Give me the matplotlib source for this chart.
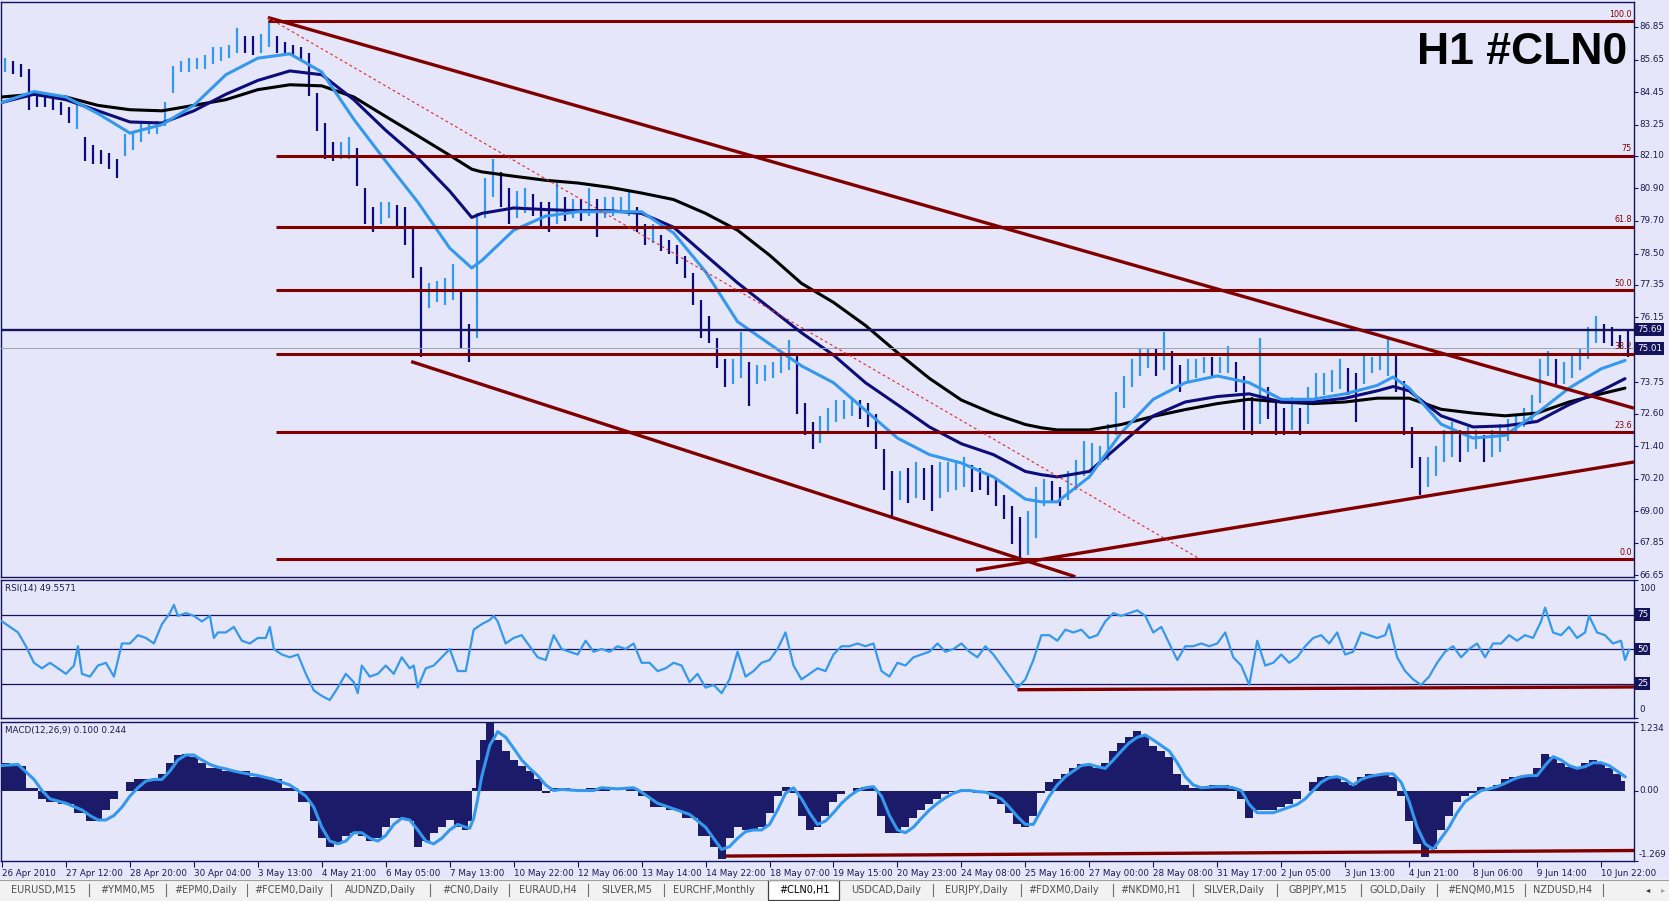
import matplotlib
matplotlib.use('Agg')
import matplotlib.pyplot as plt
import matplotlib.transforms as mtransforms
from matplotlib.patches import Rectangle
import numpy as np

# ---------------- data ----------------
# price bars, one bar per 4 hourly candles (low / high)
BAR_LOW = [85.2,85.1,85.0,83.8,83.9,83.9,83.8,83.6,83.3,83.1,
           81.9,81.8,81.8,81.6,81.3,82.1,82.3,82.6,82.9,82.9,
           83.2,84.4,85.2,85.2,85.3,85.3,85.5,85.6,85.7,85.9,
           85.9,85.8,85.9,86.1,85.9,85.8,85.8,85.6,84.3,83.0,
           82.0,81.9,82.0,82.0,81.0,79.6,79.3,79.6,79.8,79.5,
           78.8,77.6,74.7,76.5,76.7,76.6,76.8,75.0,74.5,75.4,
           79.8,80.6,80.2,79.6,79.8,80.0,79.9,79.5,79.3,79.6,
           79.7,79.8,79.7,79.9,79.1,79.8,79.9,80.0,79.9,79.3,
           78.8,78.9,78.6,78.5,78.1,77.6,76.6,75.4,75.2,74.3,
           73.6,73.7,73.9,72.9,73.7,73.8,73.9,74.1,74.2,72.6,
           71.8,71.3,71.5,71.9,72.3,72.4,72.5,72.4,72.1,71.3,
           69.8,68.8,69.4,69.3,69.5,69.4,69.0,69.5,69.7,69.8,
           69.9,69.7,69.8,69.6,69.2,68.7,67.8,67.24,67.4,68.0,
           69.2,69.3,69.2,69.4,69.8,70.3,70.6,70.7,70.9,71.8,
           72.8,73.6,74.0,74.3,74.0,74.2,73.7,73.4,73.8,73.9,
           74.1,74.0,74.1,74.1,73.4,72.0,71.8,72.2,72.4,71.8,
           71.8,72.0,71.8,72.2,73.1,73.3,73.4,73.5,73.3,72.3,
           73.7,74.1,74.2,74.0,73.4,71.8,70.6,69.6,69.9,70.3,
           70.8,71.0,70.8,71.2,71.3,70.8,71.0,71.2,71.6,71.9,
           72.1,72.3,73.0,74.0,73.6,73.7,73.9,74.2,74.6,75.2,
           75.2,75.1,75.0,74.7]
BAR_HIGH = [85.7,85.6,85.5,85.3,84.5,84.4,84.3,84.1,83.9,84.2,
            82.8,82.5,82.3,82.2,82.0,82.9,83.0,83.3,83.4,83.4,
            84.1,85.4,85.6,85.7,85.7,85.8,86.1,86.1,86.2,86.8,
            86.5,86.5,86.6,87.07,86.5,86.3,86.2,86.1,85.9,84.4,
            83.3,82.6,82.6,82.8,82.4,80.9,80.2,80.4,80.4,80.3,
            80.2,79.5,78.0,77.4,77.5,77.6,78.1,77.2,75.9,80.0,
            81.3,82.0,81.5,80.9,80.8,80.9,80.7,80.4,80.4,81.1,
            80.6,80.5,80.5,80.9,80.5,80.6,80.6,80.6,80.8,80.2,
            79.6,79.6,79.2,79.0,78.8,78.4,77.8,76.8,76.2,75.4,
            74.6,74.6,75.6,74.5,74.4,74.4,74.5,74.8,75.3,74.8,
            73.0,72.3,72.5,72.8,73.1,73.1,73.2,73.1,73.0,72.6,
            71.3,70.5,70.5,70.6,70.8,70.6,70.7,70.8,70.8,70.9,
            71.0,70.7,70.6,70.4,70.2,69.6,69.2,68.8,69.0,69.9,
            70.2,70.1,69.9,70.5,70.9,71.6,71.5,71.4,72.2,73.4,
            74.0,74.6,75.0,75.0,75.0,75.6,74.9,74.4,74.6,74.6,
            74.7,74.7,74.7,75.1,74.5,74.0,73.2,75.4,73.6,73.0,
            72.8,73.2,72.8,73.6,74.1,74.1,74.2,74.6,74.3,74.1,
            74.8,74.7,74.8,75.4,74.8,73.8,72.1,71.0,71.0,71.4,
            72.0,72.3,72.0,72.1,72.0,71.8,72.0,72.2,72.4,72.6,
            72.8,73.3,74.6,74.9,74.6,74.5,74.8,75.0,75.8,76.2,
            75.9,75.8,75.5,75.7]
BARS_PER_GROUP = 4

# moving averages (bar index, value)
MA_X = [0,16,32,48,64,80,96,112,128,144,160,176,192,208,224,235,240,256,272,288,
        304,320,336,352,368,384,400,416,432,448,464,480,496,512,520,528,544,560,576,592,
        608,624,640,656,672,688,696,704,720,736,752,768,784,800,812]
MA_FAST = [84.07,84.47,84.27,83.66,82.94,83.25,83.96,85.09,85.70,85.86,
           85.19,83.45,81.90,80.40,78.70,77.97,78.24,79.36,79.88,80.04,
           80.04,80.04,79.26,77.83,75.99,75.17,74.36,73.74,72.72,71.70,
           71.09,70.78,70.27,69.45,69.35,69.35,70.27,71.90,73.13,73.74,
           73.99,73.74,73.13,73.13,73.33,73.64,73.95,73.54,72.21,71.70,
           71.80,72.62,73.54,74.25,74.56]
MA_MID = [84.07,84.37,84.17,83.76,83.35,83.31,83.76,84.37,84.88,85.23,
          85.09,84.17,83.04,82.02,80.80,79.83,79.98,80.18,80.12,80.08,
          80.08,79.98,79.47,78.44,77.42,76.50,75.58,74.76,73.74,72.93,
          72.11,71.49,71.09,70.47,70.35,70.27,70.47,71.49,72.52,73.03,
          73.23,73.33,73.03,73.03,73.17,73.44,73.60,73.44,72.52,72.11,
          72.15,72.31,72.93,73.44,73.89]
MA_SLOW = [84.27,84.37,84.27,83.96,83.80,83.76,83.96,84.17,84.54,84.72,
           84.68,84.27,83.55,82.84,82.12,81.61,81.51,81.35,81.20,81.10,
           80.94,80.73,80.49,79.98,79.36,78.44,77.40,76.70,75.85,74.85,
           73.90,73.10,72.60,72.20,72.08,72.00,72.00,72.20,72.50,72.75,
           72.97,73.13,73.03,72.97,73.03,73.17,73.17,73.17,72.76,72.62,
           72.52,72.62,73.03,73.33,73.54]

# RSI(14)
RSI_X = [0,4,8,12,16,20,24,28,32,36,38,40,44,48,52,56,60,64,68,72,76,80,84,86,88,92,96,100,104,106,
         108,112,116,120,124,128,132,134,136,140,144,148,152,156,160,164,168,172,176,178,180,184,188,192,196,
         200,204,206,208,212,216,220,224,228,232,236,240,244,246,248,252,256,260,264,268,272,276,280,284,288,
         292,296,300,304,308,312,316,320,324,328,332,336,340,344,348,352,356,360,364,368,372,376,380,384,388,
         392,396,400,404,408,412,416,420,424,428,432,436,440,444,448,452,456,460,464,468,472,476,480,484,488,
         492,496,500,504,508,512,516,520,524,528,532,536,540,544,548,552,556,560,564,568,572,576,580,584,588,
         592,596,600,604,608,612,616,620,624,628,632,636,640,644,648,652,656,660,664,668,672,676,680,684,688,
         692,694,698,702,706,710,714,718,722,726,730,734,738,742,746,750,754,758,762,766,770,772,776,780,784,
         788,792,794,798,802,806,810,812,814]
RSI_V = [70,66,62,52,40,36,40,36,32,38,52,32,30,38,40,30,54,54,60,58,54,68,76,82,74,76,74,70,74,58,
         62,62,66,56,54,58,58,66,50,46,44,46,32,20,16,13,22,32,26,18,38,30,32,38,32,
         44,36,38,22,36,38,44,50,34,34,64,68,71,74,70,54,58,60,52,44,42,60,50,48,46,
         56,48,50,48,52,50,54,40,40,34,36,40,38,26,32,22,24,18,28,48,30,34,40,42,50,
         62,38,28,32,36,34,46,52,52,54,52,54,34,30,40,38,44,46,48,54,48,50,54,48,44,
         52,46,38,30,22,28,42,60,60,56,64,62,64,58,60,70,76,74,76,78,74,62,66,54,42,
         52,52,54,52,54,62,44,38,24,56,38,40,46,40,44,52,58,60,54,62,46,48,62,60,58,
         60,68,44,34,28,24,30,40,48,52,44,50,54,44,54,54,60,56,60,58,70,80,62,60,66,
         58,62,74,62,60,54,56,42,49.56]

# MACD(12,26,9): main (histogram) and signal
MACD_X = [0,8,16,20,24,32,40,44,48,52,56,60,64,68,72,76,80,84,88,92,96,100,104,108,112,116,120,128,136,144,
          152,156,160,164,168,172,176,180,184,188,192,196,200,204,208,212,216,220,224,228,232,234,236,238,240,
          244,248,252,256,260,264,268,272,276,280,288,296,300,308,316,320,328,336,344,352,356,360,364,368,372,
          376,380,384,388,392,396,400,404,408,412,416,420,424,428,432,436,440,444,448,452,456,460,464,468,472,
          476,480,484,488,492,496,500,504,508,512,516,520,524,528,532,536,540,544,548,552,556,560,564,568,572,
          576,580,584,588,592,596,600,608,612,616,620,624,628,632,636,640,644,648,652,656,660,664,668,672,676,
          680,684,688,692,696,700,704,708,712,716,720,724,728,732,736,740,744,748,752,756,760,764,768,772,776,
          780,784,788,792,796,800,804,808,812]
MACD_MAIN = [0.50,0.45,0.05,-0.15,-0.20,-0.25,-0.40,-0.55,-0.55,-0.35,-0.15,0.0,0.15,0.20,0.20,0.20,0.30,0.50,0.64,0.66,
             0.61,0.50,0.40,0.40,0.35,0.35,0.35,0.25,0.20,0.05,
             -0.20,-0.55,-0.86,-1.01,-0.96,-0.81,-0.76,-0.81,-0.91,-0.86,-0.66,-0.50,-0.50,-0.55,-1.01,-0.91,-0.76,-0.66,-0.53,-0.66,
             -0.71,-0.55,0.05,0.55,0.91,
             1.22,0.91,0.71,0.55,0.45,0.35,0.20,-0.05,0.05,0.05,0.0,0.05,0.07,0.0,0.05,-0.10,-0.30,-0.35,-0.50,-0.81,-1.01,-1.24,-0.86,-0.66,-0.71,
             -0.71,-0.66,-0.40,-0.10,0.07,-0.05,-0.45,-0.71,-0.66,-0.45,-0.20,-0.07,0.0,0.05,0.07,0.05,-0.45,-0.76,-0.76,-0.66,-0.50,-0.35,-0.25,-0.15,-0.07,
             -0.03,0.0,0.0,-0.05,-0.05,-0.15,-0.25,-0.40,-0.61,-0.66,-0.45,-0.05,0.15,0.20,0.30,0.40,0.47,0.45,0.40,0.50,0.71,0.86,0.96,1.08,0.98,
             0.81,0.71,0.61,0.30,0.10,0.05,0.07,0.10,0.10,0.03,-0.15,-0.50,-0.35,-0.35,-0.35,-0.30,-0.25,-0.15,0.0,0.15,0.25,0.27,0.25,0.15,0.10,
             0.25,0.30,0.27,0.30,0.25,-0.10,-0.55,-0.96,-1.20,-1.06,-0.71,-0.45,-0.20,-0.10,-0.05,0.07,0.05,0.10,0.20,0.25,0.27,0.25,0.40,0.66,0.61,
             0.50,0.43,0.40,0.50,0.55,0.47,0.40,0.30,0.17]
MACD_SIGNAL = [0.45,0.47,0.20,0.0,-0.15,-0.23,-0.35,-0.45,-0.53,-0.53,-0.45,-0.30,-0.10,0.05,0.17,0.20,0.20,0.35,0.55,0.64,
               0.64,0.55,0.47,0.42,0.39,0.35,0.32,0.27,0.20,0.10,
               -0.10,-0.30,-0.66,-0.91,-0.96,-0.91,-0.76,-0.76,-0.86,-0.91,-0.81,-0.61,-0.50,-0.53,-0.71,-0.91,-0.96,-0.86,-0.71,-0.61,
               -0.66,-0.68,-0.50,-0.15,0.25,
               0.81,1.06,0.96,0.76,0.55,0.40,0.27,0.10,0.0,0.02,0.0,0.0,0.05,0.03,0.05,-0.03,-0.23,-0.33,-0.43,-0.66,-0.86,-1.06,-1.01,-0.86,-0.74,
               -0.71,-0.71,-0.61,-0.35,-0.05,0.05,-0.15,-0.40,-0.61,-0.55,-0.40,-0.23,-0.10,0.0,0.05,0.07,-0.10,-0.45,-0.71,-0.76,-0.66,-0.50,-0.35,-0.23,-0.13,
               -0.05,0.0,0.0,-0.02,-0.03,-0.08,-0.15,-0.30,-0.47,-0.61,-0.61,-0.35,-0.10,0.10,0.25,0.35,0.45,0.47,0.43,0.40,0.55,0.71,0.86,0.96,1.00,
               0.91,0.81,0.71,0.50,0.25,0.10,0.05,0.07,0.07,0.05,0.0,-0.25,-0.40,-0.40,-0.40,-0.35,-0.30,-0.25,-0.15,0.0,0.15,0.23,0.25,0.20,0.10,
               0.20,0.25,0.28,0.30,0.30,0.15,-0.20,-0.66,-0.96,-1.06,-0.86,-0.66,-0.40,-0.20,-0.10,0.0,0.03,0.07,0.13,0.20,0.25,0.27,0.27,0.45,0.61,
               0.55,0.45,0.40,0.43,0.50,0.50,0.45,0.35,0.25]

PRICE_TICKS = [86.85,85.65,84.45,83.25,82.10,80.90,79.70,78.50,77.35,76.15,
               73.75,72.60,71.40,70.20,69.00,67.85,66.65]
BOXED_PRICES = [75.69, 75.01]
FIB_HIGH, FIB_LOW = 87.07, 67.24
FIB_RATIOS = [1.0, 0.75, 0.618, 0.5, 0.382, 0.236, 0.0]
FIB_LABELS = ['100.0', '75', '61.8', '50.0', '38.2', '23.6', '0.0']
FIB_START = [133, 137, 137, 137, 137, 137, 137]
LEVEL_LINE = 75.69
BID_LINE = 75.01

TREND_LINES = [((133, 87.2), (816.5, 72.8)),
               ((204.7, 74.52), (537, 66.59)),
               ((487.3, 66.83), (816.5, 70.82))]
DASHED_LINE = ((133, 87.2), (598, 67.3))
RSI_TREND = ((508, 20.5), (816.5, 22.5))
MACD_TREND = ((362, -1.18), (816.5, -1.08))

DATE_LABELS = ['26 Apr 2010','27 Apr 12:00','28 Apr 20:00','30 Apr 04:00','3 May 13:00','4 May 21:00',
               '6 May 05:00','7 May 13:00','10 May 22:00','12 May 06:00','13 May 14:00','14 May 22:00',
               '18 May 07:00','19 May 15:00','20 May 23:00','24 May 08:00','25 May 16:00','27 May 00:00',
               '28 May 08:00','31 May 17:00','2 Jun 05:00','3 Jun 13:00','4 Jun 21:00','8 Jun 06:00',
               '9 Jun 14:00','10 Jun 22:00']
BARS_PER_DATE_LABEL = 32

TABS = ['EURUSD,M15','#YMM0,M5','#EPM0,Daily','#FCEM0,Daily','AUDNZD,Daily','#CN0,Daily','EURAUD,H4',
        'SILVER,M5','EURCHF,Monthly','#CLN0,H1','USDCAD,Daily','EURJPY,Daily','#FDXM0,Daily','#NKDM0,H1',
        'SILVER,Daily','GBPJPY,M15','GOLD,Daily','#ENQM0,M15','NZDUSD,H4']
ACTIVE_TAB = '#CLN0,H1'

# ---------------- style ----------------
W, H = 1669, 901
BG = '#E6E6FA'
NAVY = '#14145C'
MAROON = '#800000'
LBLUE = '#3499EE'
MID_BLUE = '#0C0C7A'
HIST_C = '#1B1B6A'
TXT = '#1A1A50'

fig = plt.figure(figsize=(W / 100, H / 100), dpi=100)
fig.patch.set_facecolor(BG)


def ax_px(x0, y0, x1, y1):
    return fig.add_axes([x0 / W, 1 - y1 / H, (x1 - x0) / W, (y1 - y0) / H])


ax = ax_px(1, 2, 1634, 577)
ax_rsi = ax_px(1, 580, 1634, 718)
ax_macd = ax_px(1, 722, 1634, 861)
XLIM = (-0.5, 816.5)

for a in (ax, ax_rsi, ax_macd):
    a.set_facecolor(BG)
    a.set_xlim(*XLIM)
    for s in a.spines.values():
        s.set_color(NAVY)
        s.set_linewidth(1.0)
    a.yaxis.tick_right()
    a.tick_params(axis='y', direction='out', length=3, width=0.8, color=NAVY,
                  labelsize=6.2, labelcolor=TXT, pad=2)
    a.tick_params(axis='x', bottom=False, labelbottom=False)


def right_label(a, y, text, boxed=False, va='center'):
    tr = mtransforms.blended_transform_factory(a.transAxes, a.transData)
    kw = dict(transform=tr, ha='left', va=va, fontsize=6.3, clip_on=False)
    if boxed:
        a.text(1.0018, y, text, color='white',
               bbox=dict(boxstyle='square,pad=0.22', fc=NAVY, ec='none'), zorder=10, **kw)
    else:
        a.text(1.0030, y, text, color=TXT, **kw)


# ---------------- main price panel ----------------
ax.set_ylim(66.58, 87.77)
L = np.array(BAR_LOW)
Hh = np.array(BAR_HIGH)
xg = np.arange(len(L)) * BARS_PER_GROUP + 1.5
mid = (L + Hh) / 2
up = np.r_[True, mid[1:] >= mid[:-1]]
cols = [LBLUE if u else MID_BLUE for u in up]
ax.vlines(xg, L, Hh, colors=cols, linewidth=1.6, zorder=2)

ax.plot(MA_X, MA_SLOW, color='black', lw=2.2, zorder=3, solid_capstyle='round', solid_joinstyle='round')
ax.plot(MA_X, MA_MID, color=MID_BLUE, lw=2.2, zorder=3, solid_capstyle='round', solid_joinstyle='round')
ax.plot(MA_X, MA_FAST, color=LBLUE, lw=2.2, zorder=3, solid_capstyle='round', solid_joinstyle='round')

ax.axhline(LEVEL_LINE, color=NAVY, lw=1.7, zorder=4)
ax.axhline(BID_LINE, color='#A0A0A8', lw=0.7, zorder=4)

for r, lab, xs in zip(FIB_RATIOS, FIB_LABELS, FIB_START):
    lvl = FIB_LOW + r * (FIB_HIGH - FIB_LOW)
    ax.plot([xs, XLIM[1]], [lvl, lvl], color=MAROON, lw=2.2, zorder=5, solid_capstyle='butt')
    ax.text(815.3, lvl + 0.08, lab, ha='right', va='bottom', fontsize=5.8, color=MAROON, zorder=6)

for (p0, p1) in TREND_LINES:
    ax.plot([p0[0], p1[0]], [p0[1], p1[1]], color=MAROON, lw=2.4, zorder=5, solid_capstyle='butt')
ax.plot([DASHED_LINE[0][0], DASHED_LINE[1][0]], [DASHED_LINE[0][1], DASHED_LINE[1][1]],
        color='#E02828', lw=0.8, ls=(0, (2.5, 2.5)), zorder=5)

ax.set_yticks(PRICE_TICKS)
ax.set_yticklabels([])
for v in PRICE_TICKS:
    right_label(ax, v, f'{v:.2f}')
for v in BOXED_PRICES:
    right_label(ax, v, f'{v:.2f}', boxed=True)

ax.text(0.9957, 0.893, 'H1 #CLN0', transform=ax.transAxes, ha='right', va='baseline',
        fontsize=32, fontweight='bold', family='Liberation Sans', color='black', zorder=20)

# ---------------- RSI panel ----------------
ax_rsi.set_ylim(0, 100)
for lvl in (25, 50, 75):
    ax_rsi.axhline(lvl, color=NAVY, lw=0.9, zorder=1)
ax_rsi.plot(RSI_X, RSI_V, color=LBLUE, lw=1.6, zorder=3)
ax_rsi.plot([RSI_TREND[0][0], RSI_TREND[1][0]], [RSI_TREND[0][1], RSI_TREND[1][1]],
            color=MAROON, lw=2.4, zorder=4, solid_capstyle='butt')
ax_rsi.set_yticks([100, 75, 50, 25, 0])
ax_rsi.set_yticklabels([])
right_label(ax_rsi, 97, '100', va='top')
right_label(ax_rsi, 3, '0', va='bottom')
for v in (75, 50, 25):
    right_label(ax_rsi, v, str(v), boxed=True)
ax_rsi.text(4 / 1633, 1 - 8 / 138, 'RSI(14) 49.5571', transform=ax_rsi.transAxes, ha='left',
            va='center', fontsize=6.3, color=TXT)

# ---------------- MACD panel ----------------
ax_macd.set_ylim(-1.269, 1.234)
ax_macd.fill_between(MACD_X, 0, MACD_MAIN, step='mid', color=HIST_C, lw=0, zorder=2)
ax_macd.plot(MACD_X, MACD_SIGNAL, color=LBLUE, lw=2.2, zorder=3)
ax_macd.plot([MACD_TREND[0][0], MACD_TREND[1][0]], [MACD_TREND[0][1], MACD_TREND[1][1]],
             color=MAROON, lw=2.4, zorder=4, solid_capstyle='butt')
ax_macd.set_yticks([1.234, 0.0, -1.269])
ax_macd.set_yticklabels([])
right_label(ax_macd, 1.20, '1.234', va='top')
right_label(ax_macd, 0.0, '0.00')
right_label(ax_macd, -1.235, '-1.269', va='bottom')
ax_macd.text(4 / 1633, 1 - 9 / 139, 'MACD(12,26,9) 0.100 0.244', transform=ax_macd.transAxes,
             ha='left', va='center', fontsize=6.3, color=TXT)

date_pos = [i * BARS_PER_DATE_LABEL for i in range(len(DATE_LABELS))]
ax_macd.tick_params(axis='x', bottom=True, labelbottom=True, direction='out', length=4,
                    width=0.8, color=NAVY, labelsize=6.3, labelcolor=TXT, pad=2)
ax_macd.set_xticks(date_pos)
ax_macd.set_xticklabels(DATE_LABELS)
for t in ax_macd.get_xticklabels():
    t.set_horizontalalignment('left')

# ---------------- tab bar ----------------
tab = ax_px(0, 879, 1669, 901)
tab.set_xlim(0, W)
tab.set_ylim(22, 0)
tab.set_facecolor('#F2F2F2')
tab.axis('off')
tab.add_patch(Rectangle((0, 0), W, 22, fc='#F2F2F2', ec='none'))
tab.plot([0, W], [0.5, 0.5], color='#A0A0A0', lw=0.8)
tab_centers = [43, 128, 206, 289, 380, 470, 548, 627, 714, 804, 886, 976, 1064, 1151, 1234,
               1318, 1398, 1481, 1563]
for name, cx in zip(TABS, tab_centers):
    if name == ACTIVE_TAB:
        tab.add_patch(Rectangle((768, 0.5), 71, 20.5, fc='white', ec='#404040', lw=0.9))
        tab.text(cx, 11, name, ha='center', va='center', fontsize=7, color='black')
    else:
        tab.text(cx, 11, name, ha='center', va='center', fontsize=7, color='#505050')
for sx in [89, 166, 247, 331, 430, 509, 588, 664, 933, 1021, 1113, 1193, 1277, 1361, 1437, 1525, 1603]:
    tab.plot([sx, sx], [5, 17], color='#707070', lw=0.8)
tab.text(1648, 11, '\u25c2', ha='center', va='center', fontsize=6, color='#303030')
tab.text(1663, 11, '\u25b8', ha='center', va='center', fontsize=6, color='#A0A0A0')

fig.savefig('out.png', dpi=100, facecolor=BG)
